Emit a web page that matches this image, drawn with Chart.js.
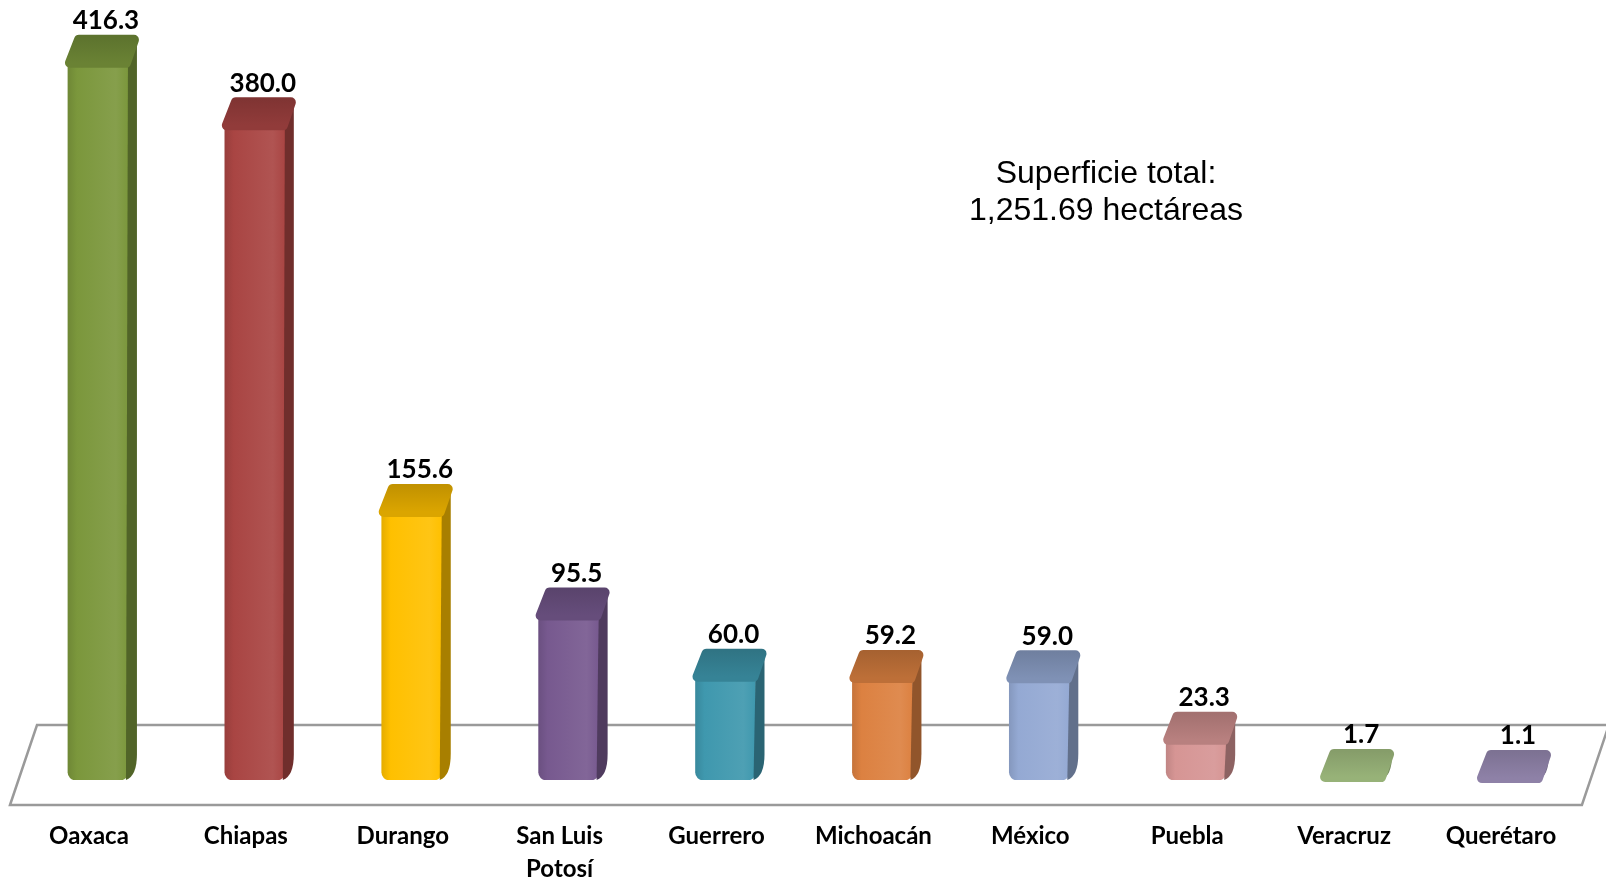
<!DOCTYPE html>
<html>
<head>
<meta charset="utf-8">
<script src="https://cdn.jsdelivr.net/npm/chart.js@4"></script>
<style>
  body { margin: 0; background: #fff; }
  canvas { display: block; }
</style>
</head>
<body>
<canvas id="chart" width="1606" height="881"></canvas>
<script>
// data
const categories = ['Oaxaca', 'Chiapas', 'Durango', ['San Luis', 'Potosí'], 'Guerrero',
                    'Michoacán', 'México', 'Puebla', 'Veracruz', 'Querétaro'];
const values = [416.3, 380.0, 155.6, 95.5, 60.0, 59.2, 59.0, 23.3, 1.7, 1.1];
const barColors = ['#7b973c', '#a94543', '#ffc000', '#77598f', '#3f98ae',
                   '#dc8141', '#94a9d3', '#d69594', '#b0cf8c', '#a596c2'];
const noteLines = ['Superficie total:', '1,251.69 hectáreas'];

function shade(hex, f) {
    const n = parseInt(hex.slice(1), 16);
    const c = [n >> 16, (n >> 8) & 255, n & 255].map(v => {
        v = f < 1 ? v * f : v + (255 - v) * (f - 1);
        return Math.round(Math.max(0, Math.min(255, v)));
    });
    return `rgb(${c[0]},${c[1]},${c[2]})`;
}

const DX = 9, DY = -26;

// floor plane behind the bars
const floorPlugin = {
    id: 'floor',
    beforeDatasetsDraw(chart) {
        const { ctx, chartArea: a, scales: { y } } = chart;
        const y0 = y.getPixelForValue(0);
        const backY = y0 - 55, frontY = y0 + 25;
        const fl = a.left - 9.5, fr = a.right - 6.5, skew = 27;
        ctx.save();
        ctx.beginPath();
        ctx.moveTo(fl, frontY);
        ctx.lineTo(fl + skew, backY);
        ctx.lineTo(fr + skew, backY);
        ctx.lineTo(fr, frontY);
        ctx.closePath();
        ctx.fillStyle = '#ffffff';
        ctx.fill();
        ctx.lineWidth = 2.5;
        ctx.strokeStyle = '#9a9a9a';
        ctx.stroke();
        ctx.restore();
    }
};

// side + top faces, value labels, note text
const depthPlugin = {
    id: 'depth',
    afterDatasetsDraw(chart) {
        const { ctx } = chart;
        const meta = chart.getDatasetMeta(0);
        ctx.save();
        meta.data.forEach((el, i) => {
            const hw = el.width / 2;
            const col = barColors[i];
            // side
            ctx.beginPath();
            ctx.moveTo(el.x + hw, el.y);
            ctx.lineTo(el.x + hw + DX, el.y + DY);
            ctx.lineTo(el.x + hw + DX, el.base - 26);
            ctx.quadraticCurveTo(el.x + hw + DX, el.base - 4, el.x + hw - 2, el.base);
            ctx.closePath();
            ctx.fillStyle = shade(col, 0.66);
            ctx.fill();
            // top cap
            ctx.beginPath();
            ctx.moveTo(el.x - hw + 2, el.y);
            ctx.lineTo(el.x - hw + DX + 2, el.y + DY + 3);
            ctx.lineTo(el.x + hw + DX - 3, el.y + DY + 3);
            ctx.lineTo(el.x + hw - 2, el.y);
            ctx.closePath();
            const g = ctx.createLinearGradient(0, el.y + DY, 0, el.y);
            g.addColorStop(0, shade(col, 0.76));
            g.addColorStop(1, shade(col, 0.86));
            ctx.fillStyle = g;
            ctx.strokeStyle = g;
            ctx.lineJoin = 'round';
            ctx.lineWidth = 10;
            ctx.stroke();
            ctx.fill();
            // value label
            ctx.fillStyle = '#000';
            ctx.font = 'bold 26px Lato';
            ctx.textAlign = 'center';
            ctx.textBaseline = 'middle';
            ctx.fillText(values[i].toFixed(1), el.x + 8, el.y + DY - 16);
        });
        ctx.font = '32px "Liberation Sans", Arial';
        ctx.fillStyle = '#000';
        ctx.textAlign = 'center';
        ctx.textBaseline = 'middle';
        noteLines.forEach((t, k) => ctx.fillText(t, 1106, 174 + k * 37));
        ctx.restore();
    }
};

new Chart(document.getElementById('chart'), {
    type: 'bar',
    data: {
        labels: categories,
        datasets: [{
            data: values,
            backgroundColor: (c) => {
                const col = barColors[c.dataIndex];
                const sx = c.chart.scales && c.chart.scales.x;
                if (!sx || !c.chart.chartArea) return col;
                const x = sx.getPixelForValue(c.dataIndex);
                const g = c.chart.ctx.createLinearGradient(x - 30, 0, x + 30, 0);
                g.addColorStop(0, shade(col, 0.9));
                g.addColorStop(0.15, col);
                g.addColorStop(0.8, shade(col, 1.08));
                g.addColorStop(1, col);
                return g;
            },
            barThickness: 60,
            borderSkipped: false,
            borderRadius: { topLeft: 0, topRight: 0, bottomLeft: 8, bottomRight: 8 }
        }]
    },
    options: {
        responsive: false,
        animation: false,
        layout: { padding: { left: 19.5, right: 16.5, top: 22, bottom: -45 } },
        plugins: { legend: { display: false }, tooltip: { enabled: false } },
        scales: {
            x: {
                grid: { display: false, drawTicks: false },
                border: { display: false },
                ticks: {
                    color: '#000',
                    font: { family: 'Lato', size: 24, weight: 'bold', lineHeight: 1.375 },
                    padding: 40,
                    labelOffset: -9,
                    maxRotation: 0,
                    autoSkip: false
                }
            },
            y: { display: false, min: 0, max: 440 }
        }
    },
    plugins: [floorPlugin, depthPlugin]
});
</script>
</body>
</html>
